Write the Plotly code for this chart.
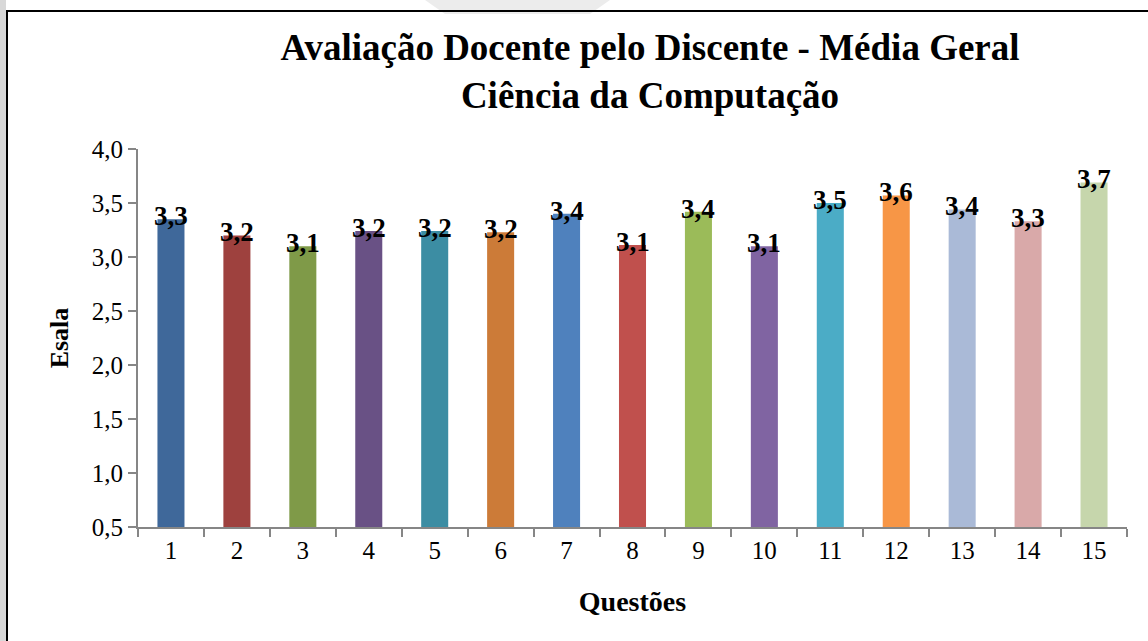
import plotly.graph_objects as go

questoes = [str(i) for i in range(1, 16)]
medias = [3.35, 3.20, 3.10, 3.24, 3.24, 3.23, 3.40, 3.11, 3.42, 3.10, 3.50, 3.57, 3.44, 3.33, 3.69]
rotulos = ["3,3", "3,2", "3,1", "3,2", "3,2", "3,2", "3,4", "3,1", "3,4", "3,1", "3,5", "3,6", "3,4", "3,3", "3,7"]
cores = ["#3F689A", "#9E413E", "#7F9A48", "#695185", "#3C8DA3", "#CC7B38", "#4F81BD", "#C0504D",
         "#9BBB59", "#8064A2", "#4BACC6", "#F79646", "#AABAD7", "#D9A9A9", "#C6D6AC"]
y_ticks = [0.5, 1.0, 1.5, 2.0, 2.5, 3.0, 3.5, 4.0]
y_ticklabels = ["0,5", "1,0", "1,5", "2,0", "2,5", "3,0", "3,5", "4,0"]
base = 0.5

W, H = 1148, 641
L, R, T, B = 138, 21, 149, 114
pw, ph = W - L - R, H - T - B

def px(x):
    return (x - L) / pw

def py(y):
    return (H - B - y) / ph

FONT = "Liberation Serif, Times New Roman, serif"

fig = go.Figure(go.Bar(
    x=questoes, y=[m - base for m in medias], base=base,
    marker=dict(color=cores, line=dict(width=0)),
    width=0.41,
))

for i, (m, r) in enumerate(zip(medias, rotulos)):
    fig.add_annotation(x=i, y=m, text=r, showarrow=False, yanchor="middle", yshift=3,
                       font=dict(family=FONT, size=27, color="black", weight="bold"))

fig.update_layout(
    width=W, height=H,
    margin=dict(l=L, r=R, t=T, b=B),
    paper_bgcolor="white", plot_bgcolor="white",
    showlegend=False,
    font=dict(family=FONT, color="black"),
    title=dict(
        text="<b>Avaliação Docente pelo Discente - Média Geral<br>Ciência da Computação</b>",
        x=px(650), xanchor="center", xref="paper",
        y=1 - 60 / H, yanchor="top", yref="container",
        font=dict(family=FONT, size=37, color="black"),
    ),
    xaxis=dict(
        type="category", showline=True, linecolor="#868686", linewidth=2,
        ticks="outside", ticklen=8, tickcolor="#868686", tickwidth=2,
        tickson="boundaries", showgrid=False,
        tickfont=dict(family=FONT, size=25, color="black"),
        title=dict(text="<b>Questões</b>", font=dict(family=FONT, size=28, color="black"), standoff=28),
        range=[-0.5, 14.5], fixedrange=True,
    ),
    yaxis=dict(
        range=[0.5, 4.0], tickvals=y_ticks, ticktext=y_ticklabels,
        showline=True, linecolor="#868686", linewidth=2,
        ticks="outside", ticklen=8, tickcolor="#868686", tickwidth=2,
        showgrid=False, zeroline=False,
        tickfont=dict(family=FONT, size=25, color="black"),
        title=dict(text="<b>Esala</b>", font=dict(family=FONT, size=26, color="black"), standoff=16),
    ),
)

# outer frame and page decorations
fig.add_shape(type="rect", xref="paper", yref="paper",
              x0=px(0), x1=px(6), y0=py(H), y1=py(0),
              fillcolor="#d8d8d8", line=dict(width=0), layer="above")
fig.add_shape(type="path", xref="paper", yref="paper",
              path=f"M {px(425)} {py(0)} L {px(610)} {py(0)} L {px(590)} {py(14)} L {px(445)} {py(14)} Z",
              fillcolor="#ececec", line=dict(width=0), layer="below")
fig.add_shape(type="rect", xref="paper", yref="paper",
              x0=px(7), x1=px(W + 10), y0=py(H + 10), y1=py(11),
              fillcolor="rgba(0,0,0,0)", line=dict(color="black", width=2), layer="below")

fig.write_html("out.html", config={"displayModeBar": False},
               post_script="document.body.style.margin='0';")
